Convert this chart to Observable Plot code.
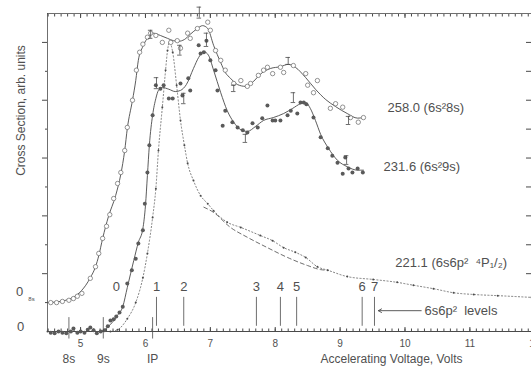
<!DOCTYPE html>
<html><head><meta charset="utf-8">
<script src="https://cdn.jsdelivr.net/npm/d3@7"></script>
<script src="https://cdn.jsdelivr.net/npm/@observablehq/plot@0.6"></script>
<style>
html,body{margin:0;padding:0;background:#fff;overflow:hidden}
#chart svg{display:block}
</style>
</head><body><div id="chart"></div>
<script>
// ---- data (accelerating voltage in V, cross section in arb. units) ----
const curve8s = [[4.49,0.50],[4.69,0.52],[4.80,0.55],[4.95,0.64],[5.08,0.80],[5.15,0.93],[5.23,1.12],[5.28,1.31],[5.34,1.61],[5.43,1.99],[5.54,2.35],[5.62,2.72],[5.68,3.13],[5.72,3.51],[5.80,4.00],[5.85,4.34],[5.89,4.69],[5.96,4.93],[6.05,5.10],[6.12,5.16],[6.23,5.12],[6.34,5.07],[6.43,5.03],[6.51,5.02],[6.60,5.05],[6.69,5.14],[6.80,5.24],[6.88,5.29],[6.96,5.24],[7.05,4.95],[7.16,4.65],[7.23,4.48],[7.31,4.38],[7.42,4.27],[7.54,4.24],[7.67,4.33],[7.77,4.45],[7.93,4.55],[8.08,4.58],[8.20,4.62],[8.31,4.57],[8.47,4.39],[8.62,4.19],[8.78,4.01],[8.93,3.89],[9.11,3.77],[9.27,3.69],[9.36,3.70]];
const curve9s = [[4.49,0],[5.31,0],[5.35,0.02],[5.49,0.16],[5.57,0.28],[5.65,0.43],[5.72,0.76],[5.82,1.23],[5.89,1.54],[5.96,1.78],[6.00,2.18],[6.03,2.70],[6.06,3.22],[6.11,3.74],[6.16,4.03],[6.20,4.17],[6.26,4.22],[6.36,4.19],[6.46,4.15],[6.54,4.17],[6.63,4.27],[6.74,4.55],[6.82,4.74],[6.90,4.84],[6.97,4.78],[7.05,4.52],[7.16,4.13],[7.26,3.82],[7.36,3.62],[7.47,3.49],[7.57,3.46],[7.70,3.55],[7.82,3.65],[7.97,3.70],[8.13,3.77],[8.27,3.86],[8.39,3.94],[8.47,3.96],[8.54,3.86],[8.62,3.65],[8.70,3.41],[8.82,3.17],[8.96,2.96],[9.11,2.85],[9.27,2.79],[9.36,2.79]];
const curve221 = [[4.49,0],[5.46,0],[5.57,0.03],[5.72,0.22],[5.85,0.50],[5.96,0.93],[6.03,1.35],[6.11,1.97],[6.16,2.47],[6.20,3.13],[6.26,3.88],[6.31,4.52],[6.34,4.86],[6.37,5.00],[6.42,4.83],[6.48,4.26],[6.54,3.65],[6.60,3.22],[6.65,2.91],[6.74,2.61],[6.85,2.35],[6.96,2.21],[7.05,2.09],[7.26,1.89],[7.47,1.80],[7.77,1.66],[7.96,1.57],[8.13,1.45],[8.31,1.37],[8.47,1.28],[8.65,1.12],[8.81,1.06],[9.11,0.95],[9.51,0.90],[9.88,0.85],[10.13,0.80],[10.44,0.74],[10.75,0.67],[11.06,0.64],[11.43,0.62],[11.95,0.59]];
const curve221Dashed = [[6.90,2.15],[7.05,2.06],[7.31,1.80],[7.57,1.63],[7.88,1.45],[8.19,1.28],[8.50,1.14],[8.70,1.07],[8.81,1.06]];
const points8s = [[4.54,0.50],[4.63,0.50],[4.72,0.52],[4.82,0.54],[4.89,0.57],[4.95,0.61],[5.02,0.66],[5.15,0.92],[5.23,1.12],[5.28,1.35],[5.34,1.61],[5.40,1.82],[5.45,2.02],[5.51,2.30],[5.57,2.56],[5.62,2.75],[5.68,3.13],[5.72,3.53],[5.80,4.00],[5.86,4.52],[5.91,4.83],[5.96,4.97],[6.03,5.09],[6.08,5.16],[6.16,5.12],[6.26,5.00],[6.36,5.21],[6.39,5.00],[6.49,5.03],[6.54,4.90],[6.65,5.16],[6.69,5.07],[6.80,5.24],[6.96,5.35],[7.00,5.21],[7.08,4.86],[7.16,4.69],[7.23,4.52],[7.36,4.29],[7.47,4.34],[7.57,4.24],[7.62,4.29],[7.74,4.43],[7.82,4.52],[7.88,4.57],[7.96,4.46],[8.08,4.57],[8.13,4.48],[8.28,4.60],[8.47,4.46],[8.50,4.26],[8.59,4.13],[8.65,4.34],[8.85,3.86],[8.93,3.94],[9.04,3.88],[9.16,3.70],[9.28,3.62],[9.36,3.70]];
const points9s = [[4.54,-0.02],[4.60,-0.03],[4.66,0],[4.72,-0.02],[4.78,-0.03],[4.85,0],[4.89,0.05],[4.95,-0.02],[5.00,0],[5.06,-0.02],[5.11,0.03],[5.15,0.07],[5.20,0.02],[5.25,-0.03],[5.31,0],[5.37,0.02],[5.42,0.09],[5.46,0.19],[5.51,0.21],[5.55,0.26],[5.60,0.33],[5.65,0.43],[5.72,0.83],[5.79,1.06],[5.85,1.26],[5.89,1.52],[5.96,1.75],[5.99,2.21],[6.03,2.75],[6.06,3.22],[6.11,3.74],[6.16,4.26],[6.23,4.20],[6.28,4.26],[6.36,4.03],[6.42,4.03],[6.54,4.29],[6.57,4.08],[6.66,4.38],[6.69,4.17],[6.82,4.95],[6.85,4.81],[6.90,4.83],[6.94,5.03],[7.00,4.69],[7.08,4.52],[7.11,4.17],[7.23,3.82],[7.19,3.56],[7.34,3.62],[7.42,3.53],[7.50,3.48],[7.57,3.44],[7.65,3.60],[7.73,3.53],[7.80,3.69],[7.88,3.91],[7.96,3.65],[8.00,3.65],[8.08,3.65],[8.19,3.74],[8.24,3.82],[8.34,3.77],[8.39,3.96],[8.44,3.96],[8.48,3.93],[8.59,3.70],[8.70,3.36],[8.81,3.17],[8.88,3.04],[8.96,2.92],[9.04,2.73],[9.08,3.01],[9.13,2.82],[9.19,2.75],[9.27,2.82],[9.35,2.75]];
// error bars: [voltage, low, high]
const errorBars = [[6.08,5.07,5.21],[6.53,4.78,4.95],[6.83,5.42,5.61],[6.94,4.93,5.16],[6.17,4.20,4.39],[6.59,3.94,4.12],[8.20,4.62,4.74],[8.28,3.96,4.13],[9.13,3.58,3.72],[9.10,2.89,3.04],[7.36,4.15,4.26],[7.54,3.27,3.41]];
const levelVoltages = [6.17,6.59,7.71,8.08,8.33,9.34,9.53];
const levelNames = ["1","2","3","4","5","6","7"];
const level0Voltage = [5.55];
const markerVoltages = [4.82,5.35,6.11];
const markerNames = ["8s","9s","IP"];
const xTicks = [5,6,7,8,9,10,11,12];
const yTicks = [1,2,3,4,5];

const xDomain = [4.49, 11.95];
const yDomain = [0, 5.5];
const ink = "#4a4a4a";
const txt = "#505050";
const minorX = d3.range(45, 120).map(i => i / 10);
const halfY = [0.5,1.5,2.5,3.5,4.5];
const rightY = d3.range(2, 11).map(i => i / 2);
const xy = {x: d => d[0], y: d => d[1]};
const blank = () => "";

const chart = Plot.plot({
  width: 531, height: 370,
  marginLeft: 47, marginRight: 0, marginTop: 13, marginBottom: 39,
  x: {domain: xDomain},
  y: {domain: yDomain},
  style: {fontFamily: "Arial, 'Liberation Sans', sans-serif", color: txt, background: "#fff"},
  marks: [
    // frame lines
    Plot.ruleY([yDomain[0]], {stroke: ink, strokeWidth: 1}),
    Plot.ruleY([yDomain[1]], {stroke: ink, strokeWidth: 0.8}),
    Plot.ruleX([xDomain[0]], {stroke: ink, strokeWidth: 0.8}),
    // axes
    Plot.axisX({anchor: "bottom", ticks: xTicks, tickSize: 0, tickPadding: 8, fontSize: 10, label: null, fill: txt}),
    Plot.axisX({anchor: "bottom", ticks: minorX, tickSize: -2.5, tickFormat: blank, label: null, stroke: ink}),
    Plot.axisX({anchor: "bottom", ticks: xTicks, tickSize: -4, tickFormat: blank, label: null, stroke: ink}),
    Plot.axisX({anchor: "top", ticks: minorX, tickSize: -2.5, tickFormat: blank, label: null, stroke: ink}),
    Plot.axisX({anchor: "top", ticks: xTicks, tickSize: -4, tickFormat: blank, label: null, stroke: ink}),
    Plot.axisY({anchor: "left", ticks: yTicks, tickSize: 5, tickFormat: blank, label: null, stroke: ink}),
    Plot.axisY({anchor: "left", ticks: halfY, tickSize: 2, tickFormat: blank, label: null, stroke: ink}),
    Plot.axisY({anchor: "right", ticks: rightY, tickSize: -6, tickFormat: blank, label: null, stroke: ink}),
    // 221.1 curve
    Plot.line(curve221Dashed, {...xy, curve: "monotone-x", stroke: ink, strokeWidth: 0.8, strokeDasharray: "4,3"}),
    Plot.line(curve221, {...xy, curve: "monotone-x", stroke: ink, strokeWidth: 0.7, strokeDasharray: "1.2,2.2"}),
    Plot.dot(curve221, {...xy, r: 1, fill: ink, stroke: "none"}),
    // 258.0 curve
    Plot.line(curve8s, {...xy, curve: "monotone-x", stroke: ink, strokeWidth: 0.9}),
    Plot.dot(points8s, {...xy, r: 2.2, stroke: "#666", fill: "white", strokeWidth: 0.7}),
    // 231.6 curve
    Plot.line(curve9s, {...xy, curve: "monotone-x", stroke: ink, strokeWidth: 0.9}),
    Plot.dot(points9s, {...xy, r: 2, fill: "#5a5a5a", stroke: "none"}),
    // error bars
    Plot.ruleX(errorBars, {x: d => d[0], y1: d => d[1], y2: d => d[2], stroke: ink, strokeWidth: 0.8}),
    Plot.ruleY(errorBars, {y: d => d[1], x1: d => d[0] - 0.035, x2: d => d[0] + 0.035, stroke: ink, strokeWidth: 0.8}),
    Plot.ruleY(errorBars, {y: d => d[2], x1: d => d[0] - 0.035, x2: d => d[0] + 0.035, stroke: ink, strokeWidth: 0.8}),
    // level markers
    Plot.ruleX(levelVoltages, {y1: 0.09, y2: 0.59, stroke: ink, strokeWidth: 0.8}),
    Plot.text(levelVoltages, {x: d => d, y: 0.77, text: (d, i) => levelNames[i], fontSize: 13, fill: txt}),
    Plot.text(level0Voltage, {x: d => d, y: 0.77, text: () => "0", fontSize: 13, fill: txt}),
    Plot.ruleX(markerVoltages, {y1: -0.13, y2: 0.24, stroke: ink, strokeWidth: 0.8}),
    Plot.text(markerVoltages, {x: d => d, y: -0.47, text: (d, i) => markerNames[i], fontSize: 12, fill: txt}),
    Plot.arrow([0], {x1: 10.25, y1: 0.36, x2: 9.59, y2: 0.36, stroke: ink, strokeWidth: 0.9, headLength: 6}),
    // annotations
    Plot.text(["258.0 (6s²8s)"], {x: 9.73, y: 3.86, textAnchor: "start", fontSize: 13, fill: txt}),
    Plot.text(["231.6 (6s²9s)"], {x: 9.67, y: 2.85, textAnchor: "start", fontSize: 13, fill: txt}),
    Plot.text(["221.1 (6s6p²  ⁴P₁/₂)"], {x: 9.85, y: 1.18, textAnchor: "start", fontSize: 13, fill: txt}),
    Plot.text(["6s6p²  levels"], {x: 10.30, y: 0.35, textAnchor: "start", fontSize: 13, fill: txt}),
    Plot.text(["0"], {x: xDomain[0], y: 0, dx: -27, dy: -5, fontSize: 13, fill: txt}),
    Plot.text(["0"], {x: xDomain[0], y: 0.5, dx: -28, dy: -11, fontSize: 13, fill: txt}),
    Plot.text(["8s"], {x: xDomain[0], y: 0.5, dx: -16, dy: -4, fontSize: 6, fill: txt}),
    Plot.text(["Cross Section, arb. units"], {frameAnchor: "left", rotate: -90, textAnchor: "middle", lineAnchor: "middle", dx: -26, dy: -62, fontSize: 12, fill: txt}),
    Plot.text(["Accelerating Voltage, Volts"], {frameAnchor: "bottom", textAnchor: "middle", lineAnchor: "middle", dx: 102, dy: 28, fontSize: 12, fill: txt})
  ]
});
document.getElementById("chart").appendChild(chart);
</script>
</body></html>
